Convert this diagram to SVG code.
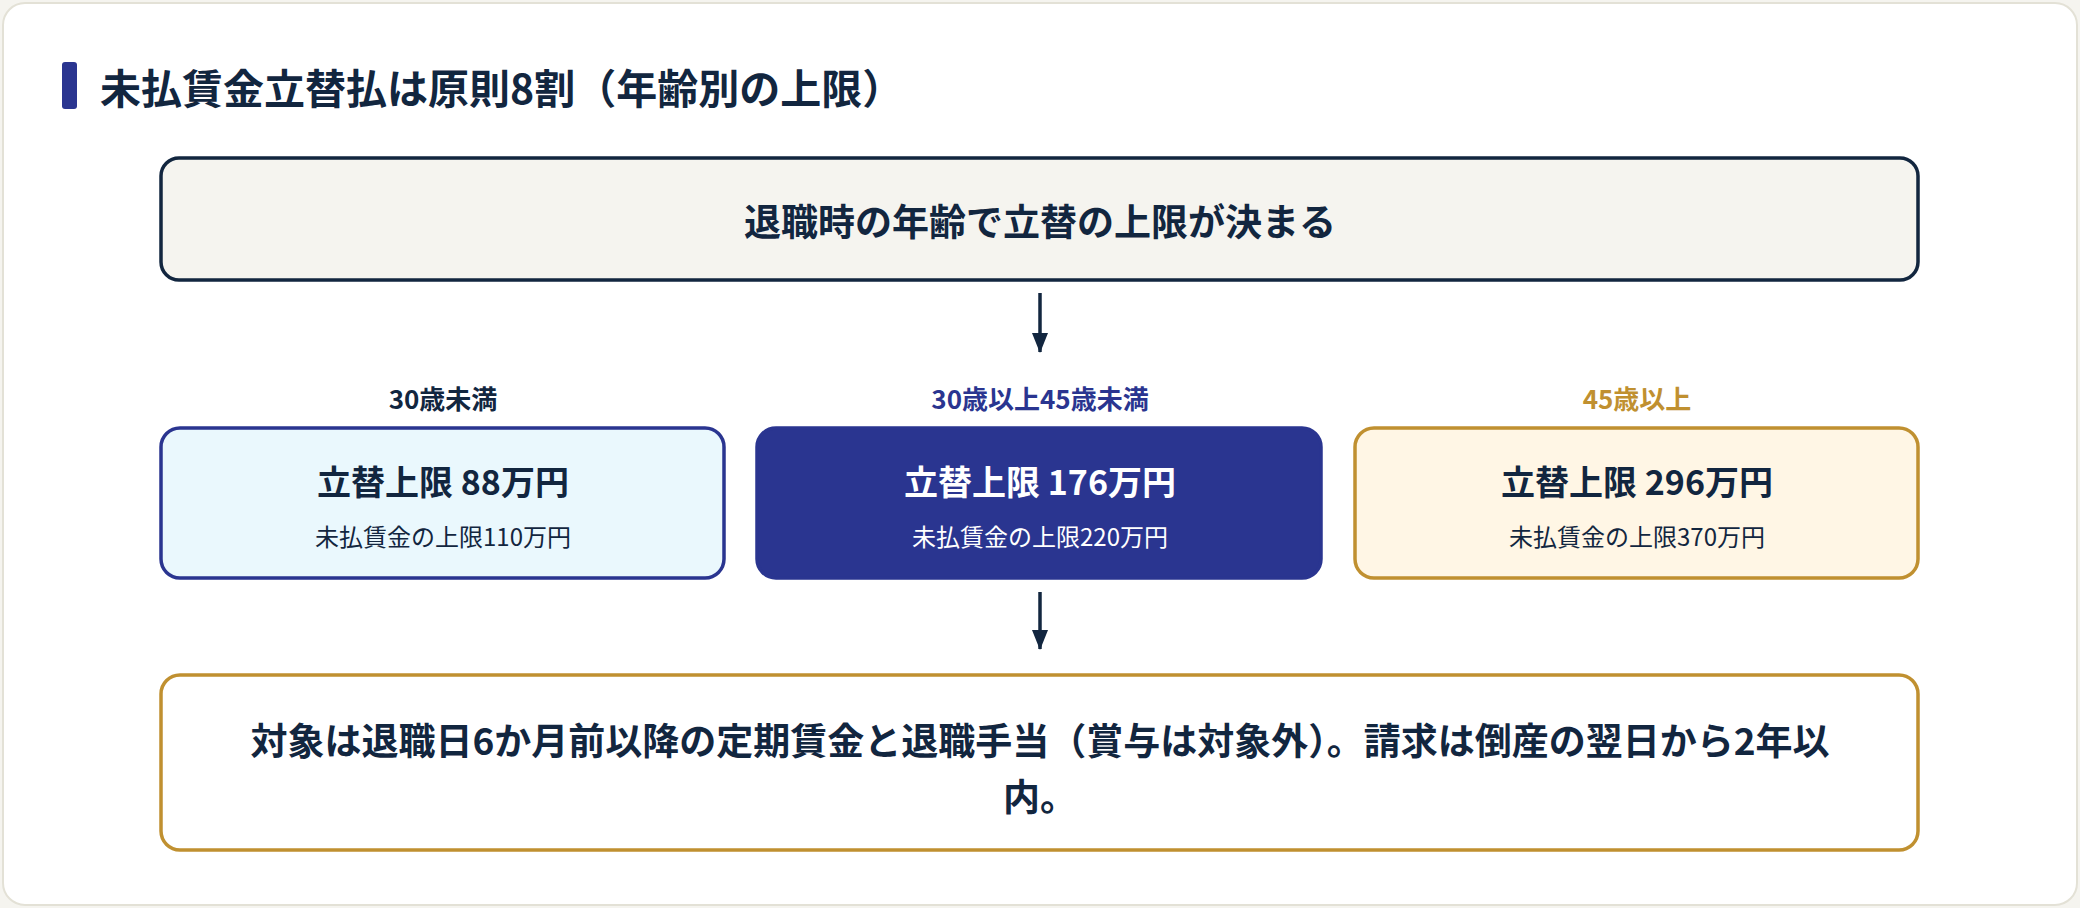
<svg xmlns="http://www.w3.org/2000/svg" width="2080" height="908" viewBox="0 0 2080 908">
<style>
text{font-family:"Noto Sans CJK JP","Noto Sans",sans-serif;font-weight:700;text-anchor:middle;dominant-baseline:central}
.box{stroke-width:3.5}
.conn{stroke:#12263f;stroke-width:3.5;fill:none}
</style>
<defs><marker id="ah" viewBox="0 0 10 10" refX="9" refY="5" markerWidth="7" markerHeight="7" markerUnits="userSpaceOnUse" orient="auto"><path d="M0,0L10,5L0,10z" fill="#12263f"/></marker>
<marker id="a" viewBox="0 0 20 16" refX="19" refY="8" markerWidth="20" markerHeight="28" markerUnits="userSpaceOnUse" orient="auto"><path d="M0,0L20,8L0,16z" fill="#12263f"/></marker></defs>
<rect width="2080" height="908" fill="#f5f4ef"/>
<rect x="3" y="3" width="2074" height="902" rx="22" fill="#fff" stroke="#e3e1d6" stroke-width="2"/>
<g id="title"><rect x="62" y="62" width="15" height="47" rx="3" fill="#2a3590"/>
<text x="100" y="86" font-size="41" fill="#12263f" style="text-anchor:start">未払賃金立替払は原則8割（年齢別の上限）</text></g>
<g id="top"><rect class="box" x="161" y="158" width="1757" height="122" rx="18" fill="#f5f4ef" stroke="#12263f"/>
<text x="1040" y="220" font-size="37" fill="#12263f">退職時の年齢で立替の上限が決まる</text></g>
<g id="under30"><text x="443" y="397" font-size="26" fill="#12263f">30歳未満</text>
<rect class="box" x="161" y="428" width="563" height="150" rx="19" fill="#eaf8fd" stroke="#2a3590"/>
<text x="443" y="480" font-size="34" fill="#12263f">立替上限 88万円</text>
<text x="443" y="535" font-size="24" fill="#12263f" font-weight="400" style="font-weight:400">未払賃金の上限110万円</text></g>
<g id="mid"><text x="1040" y="397" font-size="26" fill="#2a3590">30歳以上45歳未満</text>
<rect class="box" x="757" y="428" width="564" height="150" rx="19" fill="#2a3590" stroke="#2a3590"/>
<text x="1040" y="480" font-size="34" fill="#fff">立替上限 176万円</text>
<text x="1040" y="535" font-size="24" fill="#fff" style="font-weight:400">未払賃金の上限220万円</text></g>
<g id="over45"><text x="1637" y="397" font-size="26" fill="#c09030">45歳以上</text>
<rect class="box" x="1355" y="428" width="563" height="150" rx="19" fill="#fff6e5" stroke="#c09030"/>
<text x="1637" y="480" font-size="34" fill="#12263f">立替上限 296万円</text>
<text x="1637" y="535" font-size="24" fill="#12263f" style="font-weight:400">未払賃金の上限370万円</text></g>
<g id="bottom"><rect class="box" x="161" y="675" width="1757" height="175" rx="19" fill="#fff" stroke="#c09030"/>
<text x="1040" y="739" font-size="37" fill="#12263f">対象は退職日6か月前以降の定期賃金と退職手当（賞与は対象外）。請求は倒産の翌日から2年以</text>
<text x="1040" y="795" font-size="37" fill="#12263f">内。</text></g>
<g id="connectors">
<line class="conn" x1="1040" y1="293" x2="1040" y2="352" marker-end="url(#a)"/>
<line class="conn" x1="1040" y1="592" x2="1040" y2="649" marker-end="url(#a)"/>
</g>
</svg>
